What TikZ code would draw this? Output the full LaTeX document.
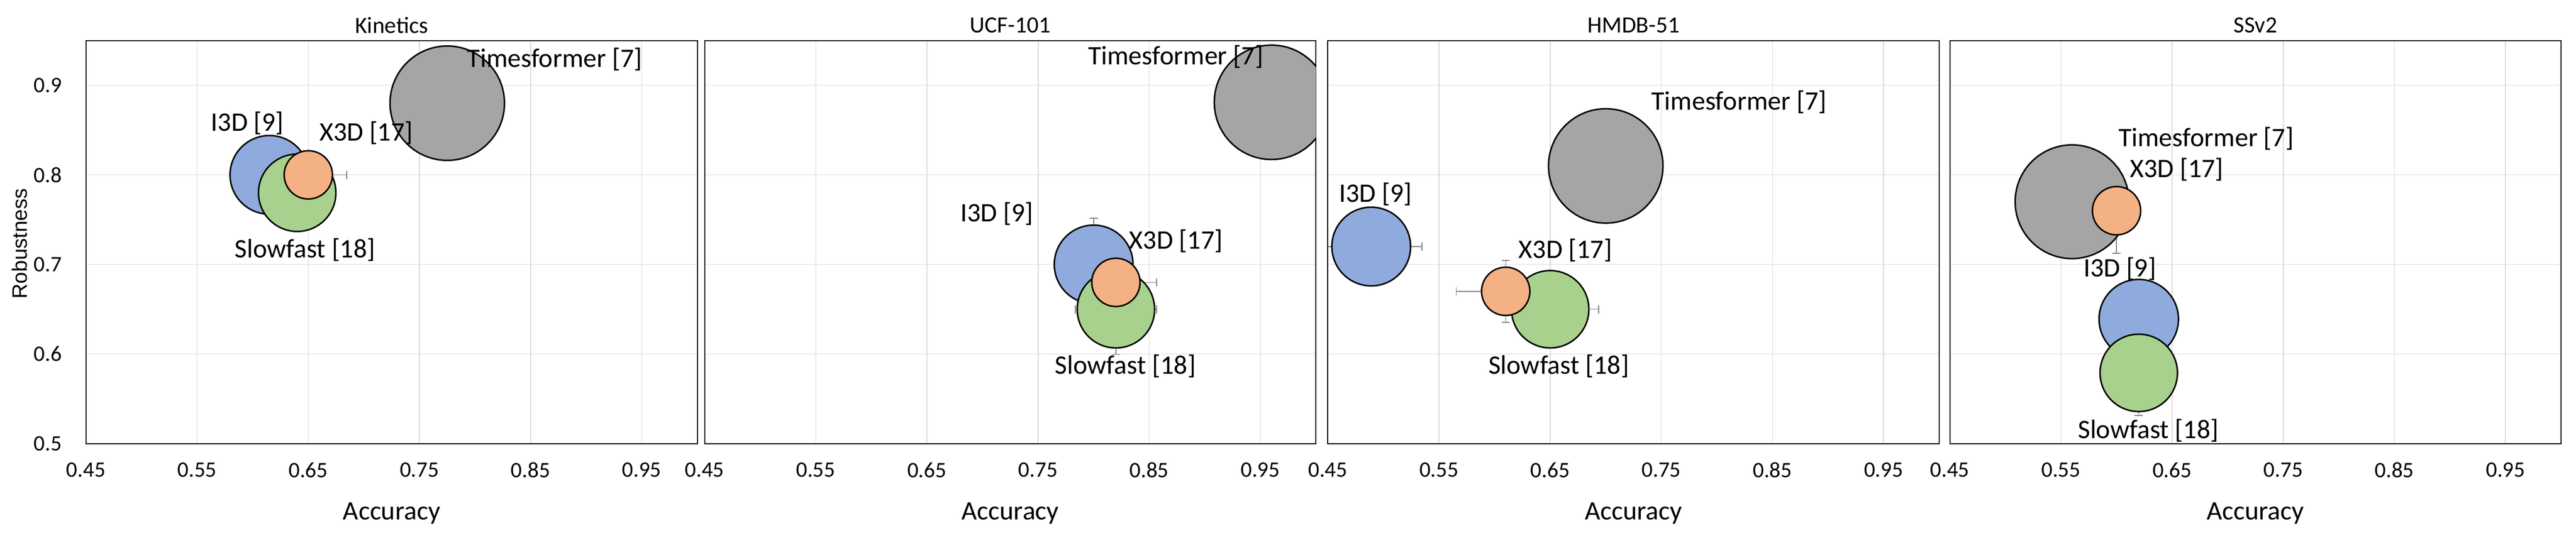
\documentclass[tikz,border=0pt]{standalone}
\usepackage{fontspec}
\setmainfont{Carlito}
\newfontfamily\robfont{Liberation Sans}
\usetikzlibrary{arrows.meta}
\definecolor{cblue}{HTML}{8FAADC}
\definecolor{cgreen}{HTML}{A9D18E}
\definecolor{corange}{HTML}{F4B183}
\definecolor{cgray}{HTML}{A5A5A5}
\definecolor{gridcol}{HTML}{D9D9D9}
\definecolor{errcol}{HTML}{7F7F7F}
\tikzset{
 gridc/.style={draw=gridcol,line width=0.7pt},
 frame/.style={draw=black,line width=0.9pt},
 ticklab/.style={font=\fontsize{19}{22}\selectfont},
 lab/.style={font=\fontsize{23}{26}\selectfont},
 ttl/.style={font=\fontsize{20}{24}\selectfont},
 axlab/.style={font=\fontsize{23}{26}\selectfont},
 bub/.style={circle,draw=black,line width=1.3pt,inner sep=0pt},
 err/.style={draw=errcol,line width=0.7pt,{Bar[width=7pt]}-{Bar[width=7pt]}},
}
\newcommand{\panelframe}[3]{%
\begin{scope}[shift={(#1-15.12,-10.7)},x=33.6cm,y=27.1cm]
 \foreach \g in {0.55,0.65,0.75,0.85,0.95} \draw[gridc] (\g,0.5) -- (\g,0.95);
 \foreach \g in {0.6,0.7,0.8,0.9} \draw[gridc] (0.45,\g) -- (1.0,\g);
 \draw[frame] (0.45,0.5) rectangle (1.0,0.95);
 \foreach \g [count=\i] in {0.45,0.55,0.65,0.75,0.85,0.95}
   \node[ticklab] (#2-xt\i) at (\g,0.4705) {\g};
 \node[ttl] (#2-title) at (0.725,0.967) {#3};
 \node[axlab] (#2-xlab) at (0.725,0.4225) {Accuracy};
\end{scope}}
\newcommand{\dataclip}[1]{\clip (#1-15.12+0.45*33.6,-10.7+0.5*27.1) rectangle (#1-15.12+1.0*33.6,-10.7+0.95*27.1);}
\begin{document}
\begin{tikzpicture}
\useasboundingbox (0,0) rectangle (77.87,16.27);
\fill[white] (0,0) rectangle (77.87,16.27);
\panelframe{2.60}{p1}{Kinetics}
\panelframe{21.30}{p2}{UCF-101}
\panelframe{40.14}{p3}{HMDB-51}
\panelframe{58.94}{p4}{SSv2}
% y axis
\begin{scope}[shift={(2.60-15.12,-10.7)},x=33.6cm,y=27.1cm]
 \foreach \g [count=\i] in {0.5,0.6,0.7,0.8,0.9}
   \node[ticklab,anchor=east] (yt\i) at (0.432,\g) {\g};
\end{scope}
\node[rotate=90,font=\robfont\fontsize{18}{21}\selectfont] (ylab) at (0.59,8.9) {Robustness};
% panel 1
\begin{scope}
\dataclip{2.60}
\begin{scope}[shift={(2.60-15.12,-10.7)},x=33.6cm,y=27.1cm]
 \draw[err] (0.615,0.80) -- (0.685,0.80);
 \node[bub,fill=cgray,minimum size=3.46cm] (p1-ts) at (0.775,0.88) {};
 \node[bub,fill=cblue,minimum size=2.38cm] (p1-i3d) at (0.615,0.80) {};
 \node[bub,fill=cgreen,minimum size=2.34cm] (p1-sf) at (0.64,0.78) {};
 \node[bub,fill=corange,minimum size=1.46cm] (p1-x3d) at (0.65,0.80) {};
\end{scope}
\end{scope}
% panel 2
\begin{scope}
\dataclip{21.30}
\begin{scope}[shift={(21.30-15.12,-10.7)},x=33.6cm,y=27.1cm]
 \draw[err] (0.80,0.648) -- (0.80,0.752);
 \draw[err] (0.765,0.70) -- (0.835,0.70);
 \draw[err] (0.783,0.68) -- (0.857,0.68);
 \draw[err] (0.82,0.599) -- (0.82,0.701);
 \draw[err] (0.783,0.65) -- (0.857,0.65);
 \node[bub,fill=cgray,minimum size=3.46cm] (p2-ts) at (0.96,0.881) {};
 \node[bub,fill=cblue,minimum size=2.38cm] (p2-i3d) at (0.80,0.70) {};
 \node[bub,fill=cgreen,minimum size=2.34cm] (p2-sf) at (0.82,0.65) {};
 \node[bub,fill=corange,minimum size=1.46cm] (p2-x3d) at (0.82,0.68) {};
\end{scope}
\end{scope}
% panel 3
\begin{scope}
\dataclip{40.14}
\begin{scope}[shift={(40.14-15.12,-10.7)},x=33.6cm,y=27.1cm]
 \draw[err] (0.443,0.72) -- (0.535,0.72);
 \draw[err] (0.565,0.67) -- (0.655,0.67);
 \draw[err] (0.61,0.635) -- (0.61,0.705);
 \draw[err] (0.606,0.65) -- (0.694,0.65);
 \node[bub,fill=cgray,minimum size=3.46cm] (p3-ts) at (0.70,0.81) {};
 \node[bub,fill=cblue,minimum size=2.38cm] (p3-i3d) at (0.489,0.72) {};
 \node[bub,fill=cgreen,minimum size=2.34cm] (p3-sf) at (0.65,0.65) {};
 \node[bub,fill=corange,minimum size=1.46cm] (p3-x3d) at (0.61,0.67) {};
\end{scope}
\end{scope}
% panel 4
\begin{scope}
\dataclip{58.94}
\begin{scope}[shift={(58.94-15.12,-10.7)},x=33.6cm,y=27.1cm]
 \draw[err] (0.60,0.712) -- (0.60,0.808);
 \draw[err] (0.62,0.531) -- (0.62,0.625);
 \node[bub,fill=cgray,minimum size=3.44cm] (p4-ts) at (0.56,0.77) {};
 \node[bub,fill=cblue,minimum size=2.40cm] (p4-i3d) at (0.62,0.639) {};
 \node[bub,fill=cgreen,minimum size=2.34cm] (p4-sf) at (0.62,0.579) {};
 \node[bub,fill=corange,minimum size=1.46cm] (p4-x3d) at (0.60,0.76) {};
\end{scope}
\end{scope}
% labels
\node[lab] (l1-ts) at (16.77,14.48) {Timesformer [7]};
\node[lab] (l1-i3d) at (7.48,12.55) {I3D [9]};
\node[lab] (l1-x3d) at (11.07,12.24) {X3D [17]};
\node[lab] (l1-sf) at (9.22,8.72) {Slowfast [18]};
\node[lab] (l2-ts) at (35.54,14.56) {Timesformer [7]};
\node[lab] (l2-i3d) at (30.13,9.81) {I3D [9]};
\node[lab] (l2-x3d) at (35.55,8.97) {X3D [17]};
\node[lab] (l2-sf) at (34.02,5.19) {Slowfast [18]};
\node[lab] (l3-ts) at (52.57,13.18) {Timesformer [7]};
\node[lab] (l3-i3d) at (41.58,10.39) {I3D [9]};
\node[lab] (l3-x3d) at (47.32,8.70) {X3D [17]};
\node[lab] (l3-sf) at (47.12,5.19) {Slowfast [18]};
\node[lab] (l4-ts) at (66.69,12.07) {Timesformer [7]};
\node[lab] (l4-x3d) at (65.80,11.14) {X3D [17]};
\node[lab] (l4-i3d) at (64.08,8.14) {I3D [9]};
\node[lab] (l4-sf) at (64.94,3.24) {Slowfast [18]};
\end{tikzpicture}
\end{document}
